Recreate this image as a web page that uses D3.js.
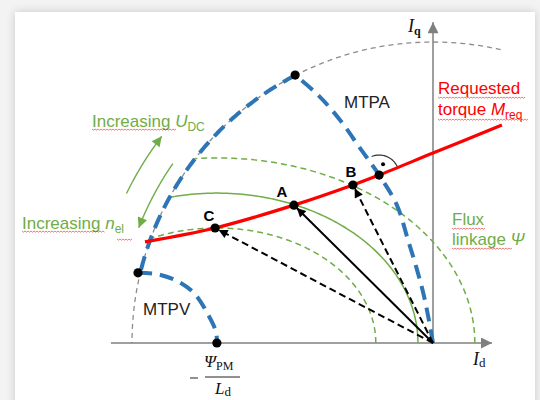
<!DOCTYPE html>
<html>
<head>
<meta charset="utf-8">
<script src="https://cdn.jsdelivr.net/npm/d3@7"></script>
<style>
  html, body { margin: 0; padding: 0; background: #eeeeee; }
  svg { display: block; }
  text { font-family: "Liberation Sans", Arial, sans-serif; }
  .serif { font-family: "Liberation Serif", "Times New Roman", serif; }
</style>
</head>
<body>
<svg id="chart" width="540" height="400"></svg>
<script>
// Current-plane quantities in per-unit of the current limit (I_max = 1)
const psiOverLd = -0.718;               // centre of the flux-linkage ellipses, -Psi_PM / L_d
const currentLimitArc = [77, 180];      // start / end angle of the current limit circle, degrees

// Flux-linkage ellipses (d- and q-semi-axes) and their line style
const fluxRx = [0.857, 0.668, 0.528];
const fluxRy = [0.615, 0.498, 0.382];
const fluxDashed = [true, false, true];

// Requested torque curve M_req
const torqueId = [-0.957, -0.724, -0.462, -0.266, -0.179, 0.0, 0.229];
const torqueIq = [0.336, 0.382, 0.458, 0.525, 0.558, 0.631, 0.724];

// MTPA trajectory
const mtpaId = [0.0, -0.027, -0.053, -0.083, -0.120, -0.179, -0.243, -0.309, -0.382, -0.458];
const mtpaIq = [0.0, 0.143, 0.243, 0.342, 0.458, 0.558, 0.648, 0.741, 0.824, 0.890];

// Current limit section used in field weakening (angles, degrees)
const limitSection = [117.2, 166.5];

// MTPV trajectory
const mtpvId = [-0.980, -0.917, -0.850, -0.794, -0.748, -0.721, -0.718];
const mtpvIq = [0.233, 0.229, 0.206, 0.166, 0.096, 0.037, 0.0];

// Operating points A, B, C and their current vectors
const pointLabels = ["A", "B", "C"];
const pointId = [-0.462, -0.266, -0.724];
const pointIq = [0.458, 0.525, 0.382];
const pointDashed = [false, true, true];

// Marked intersections (MTPA/limit, MTPV/limit, MTPA/torque)
const markId = [-0.458, -0.980, -0.179, psiOverLd];
const markIq = [0.890, 0.233, 0.558, 0.0];

// Axis extents
const idAxis = [-1.07, 0.196];
const iqAxis = [0, 1.066];

const GREEN = "#70ad47", BLUE = "#2e75b6", RED = "#ff0000", GRAY = "#7f7f7f";

const svg = d3.select("#chart");
const x = d3.scaleLinear().domain([-1, 0]).range([132, 433]);
const y = d3.scaleLinear().domain([0, 1]).range([343, 42]);
const rad = d => d * Math.PI / 180;

// card with soft shadow
const defs = svg.append("defs");
const f = defs.append("filter").attr("id", "shadow").attr("x", "-10%").attr("y", "-10%").attr("width", "120%").attr("height", "120%");
f.append("feDropShadow").attr("dx", 0).attr("dy", 0).attr("stdDeviation", 4).attr("flood-color", "#000").attr("flood-opacity", 0.18);
svg.append("rect").attr("x", 0).attr("y", 0).attr("width", 540).attr("height", 400).attr("fill", "#f3f3f3");
svg.append("rect").attr("x", 15).attr("y", 12).attr("width", 520).attr("height", 400)
  .attr("fill", "#fff").attr("filter", "url(#shadow)");

// arrow markers
function marker(id, color, w, h) {
  defs.append("marker").attr("id", id).attr("viewBox", "0 0 10 10")
    .attr("refX", 10).attr("refY", 5).attr("markerUnits", "userSpaceOnUse")
    .attr("markerWidth", w).attr("markerHeight", h).attr("orient", "auto")
    .append("path").attr("d", "M0,0 L10,5 L0,10 Z").attr("fill", color);
}
marker("axArrow", GRAY, 12, 11);
marker("blkArrow", "#000", 11, 9);
marker("grnArrow", GREEN, 11, 10);

const line = d3.line().x(d => x(d[0])).y(d => y(d[1]));
const smooth = d3.line().x(d => x(d[0])).y(d => y(d[1])).curve(d3.curveCatmullRom.alpha(0.5));
const zip = (a, b) => a.map((v, i) => [v, b[i]]);
function arcPts(r, a0, a1, cx = 0, cy = 0, n = 120) {
  return d3.range(n + 1).map(i => {
    const t = rad(a0 + (a1 - a0) * i / n);
    return [cx + r * Math.cos(t), cy + r * Math.sin(t)];
  });
}

// current limit circle
svg.append("path").attr("d", line(arcPts(1, currentLimitArc[0], currentLimitArc[1])))
  .attr("fill", "none").attr("stroke", "#8c8c8c").attr("stroke-width", 1.3).attr("stroke-dasharray", "5,4");

// axes
svg.append("line").attr("x1", x(idAxis[0])).attr("y1", y(0)).attr("x2", x(idAxis[1])).attr("y2", y(0))
  .attr("stroke", GRAY).attr("stroke-width", 1.5).attr("marker-end", "url(#axArrow)");
svg.append("line").attr("x1", x(0)).attr("y1", y(iqAxis[0])).attr("x2", x(0)).attr("y2", y(iqAxis[1]))
  .attr("stroke", GRAY).attr("stroke-width", 1.5).attr("marker-end", "url(#axArrow)");

// flux-linkage ellipses, clipped to the current limit
fluxRx.forEach((rx, i) => {
  const pts = [];
  for (let k = 0; k <= 300; k++) {
    const t = Math.PI * k / 300;
    const p = [psiOverLd + rx * Math.cos(t), fluxRy[i] * Math.sin(t)];
    if (Math.hypot(p[0], p[1]) <= 1.0) pts.push(p); else break;
  }
  svg.append("path").attr("d", line(pts)).attr("fill", "none").attr("stroke", GREEN)
    .attr("stroke-width", 1.5).attr("stroke-dasharray", fluxDashed[i] ? "6,4" : null);
});

// MTPA, field weakening limit section and MTPV (thick blue dashes)
const blue = p => svg.append("path").attr("d", p).attr("fill", "none").attr("stroke", BLUE)
  .attr("stroke-width", 4).attr("stroke-dasharray", "14,8");
blue(smooth(zip(mtpaId, mtpaIq)));
blue(line(arcPts(1, limitSection[0], limitSection[1])));
blue(smooth(zip(mtpvId, mtpvIq)));

// requested torque
svg.append("path").attr("d", smooth(zip(torqueId, torqueIq))).attr("fill", "none")
  .attr("stroke", RED).attr("stroke-width", 3.2);

// current vectors
pointLabels.forEach((lab, i) => {
  const px = x(pointId[i]), py = y(pointIq[i]);
  const dx = px - x(0), dy = py - y(0), L = Math.hypot(dx, dy);
  const ex = px - dx / L * 4, ey = py - dy / L * 4;
  svg.append("line").attr("x1", x(0)).attr("y1", y(0)).attr("x2", ex).attr("y2", ey)
    .attr("stroke", "#000").attr("stroke-width", 2)
    .attr("stroke-dasharray", pointDashed[i] ? "7,4" : null)
    .attr("marker-end", "url(#blkArrow)");
});

// right angle between MTPA and torque curve
const ra = [x(markId[2]), y(markIq[2])];
const raArc = d3.range(0, 41).map(k => {
  const t = rad(26 + (112 - 26) * k / 40);
  return [ra[0] + 20 * Math.cos(t), ra[1] - 20 * Math.sin(t)];
});
svg.append("path").attr("d", d3.line()(raArc)).attr("fill", "none").attr("stroke", "#333").attr("stroke-width", 1.2);
svg.append("circle").attr("cx", ra[0] + 11.5 * Math.cos(rad(70))).attr("cy", ra[1] - 11.5 * Math.sin(rad(70)))
  .attr("r", 2).attr("fill", "#000");

// dots
const dots = zip(pointId, pointIq).concat(zip(markId, markIq));
svg.selectAll("circle.pt").data(dots).enter().append("circle").attr("class", "pt")
  .attr("cx", d => x(d[0])).attr("cy", d => y(d[1])).attr("r", 4.6).attr("fill", "#000");

// green direction arrows (arcs around the origin)
svg.append("path").attr("d", line(arcPts(1.133, 154, 142.7))).attr("fill", "none")
  .attr("stroke", GREEN).attr("stroke-width", 1.4).attr("marker-end", "url(#grnArrow)");
svg.append("path").attr("d", line(arcPts(1.05, 145.4, 158.6))).attr("fill", "none")
  .attr("stroke", GREEN).attr("stroke-width", 1.4).attr("marker-end", "url(#grnArrow)");

// point labels
const labPos = [[282, 197], [351, 177], [209, 221]];
pointLabels.forEach((lab, i) => {
  svg.append("text").attr("x", labPos[i][0]).attr("y", labPos[i][1]).attr("text-anchor", "middle")
    .attr("font-size", 15).attr("font-weight", "bold").attr("fill", "#000").text(lab);
});

// text helpers
function rich(xp, yp, color, parts) {
  const t = svg.append("text").attr("x", xp).attr("y", yp).attr("fill", color).attr("font-size", 17);
  parts.forEach(p => {
    const s = t.append("tspan").text(p.t);
    if (p.i) s.attr("font-style", "italic");
    if (p.sub) s.attr("font-size", 12).attr("dy", 4);
    if (p.up) s.attr("dy", -4);
  });
  return t;
}
function wavy(x0, x1, yy) {
  let d = `M${x0},${yy}`;
  for (let xx = x0, k = 0; xx < x1; xx += 1.5, k++) d += ` L${xx + 1.5},${yy + (k % 2 ? 0 : 1.2)}`;
  svg.append("path").attr("d", d).attr("fill", "none").attr("stroke", "#e03030").attr("stroke-width", 0.8).attr("opacity", 0.8);
}

rich(92, 127, GREEN, [{ t: "Increasing " }, { t: "U", i: 1 }, { t: "DC", sub: 1 }]);
wavy(92, 175, 129);
rich(22, 229, GREEN, [{ t: "Increasing " }, { t: "n", i: 1 }, { t: "el", sub: 1 }]);
wavy(22, 104, 231); wavy(117, 131, 239);
rich(438, 94, RED, [{ t: "Requested" }]);
wavy(438, 525, 97);
rich(438, 115, RED, [{ t: "torque " }, { t: "M", i: 1 }, { t: "req", sub: 1 }]);
wavy(438, 528, 119);
rich(452, 225, GREEN, [{ t: "Flux" }]);
wavy(452, 485, 228);
rich(452, 245, GREEN, [{ t: "linkage " }, { t: "Ψ", i: 1 }]);
wavy(452, 512, 248);
rich(344, 108, "#222", [{ t: "MTPA" }]);
rich(143, 315, "#222", [{ t: "MTPV" }]);

// axis titles
const iq = svg.append("text").attr("class", "serif").attr("x", 408).attr("y", 32).attr("fill", "#111");
iq.append("tspan").attr("font-size", 18).attr("font-style", "italic").text("I");
iq.append("tspan").attr("font-size", 12).attr("font-weight", "bold").attr("dy", 3).text("q");
const idl = svg.append("text").attr("class", "serif").attr("x", 473).attr("y", 365).attr("fill", "#111");
idl.append("tspan").attr("font-size", 18).attr("font-style", "italic").text("I");
idl.append("tspan").attr("font-size", 13).attr("dy", 2).text("d");

// -Psi_PM / L_d
svg.append("line").attr("x1", 190).attr("x2", 198).attr("y1", 378).attr("y2", 378).attr("stroke", "#222").attr("stroke-width", 1);
const num = svg.append("text").attr("class", "serif").attr("x", 204).attr("y", 367).attr("fill", "#111");
num.append("tspan").attr("font-size", 17).attr("font-style", "italic").text("Ψ");
num.append("tspan").attr("font-size", 12).attr("dy", 3).text("PM");
svg.append("line").attr("x1", 205).attr("x2", 240).attr("y1", 377).attr("y2", 377).attr("stroke", "#222").attr("stroke-width", 1);
const den = svg.append("text").attr("class", "serif").attr("x", 215).attr("y", 394).attr("fill", "#111");
den.append("tspan").attr("font-size", 17).attr("font-style", "italic").text("L");
den.append("tspan").attr("font-size", 13).attr("dy", 2).text("d");
</script>
</body>
</html>
